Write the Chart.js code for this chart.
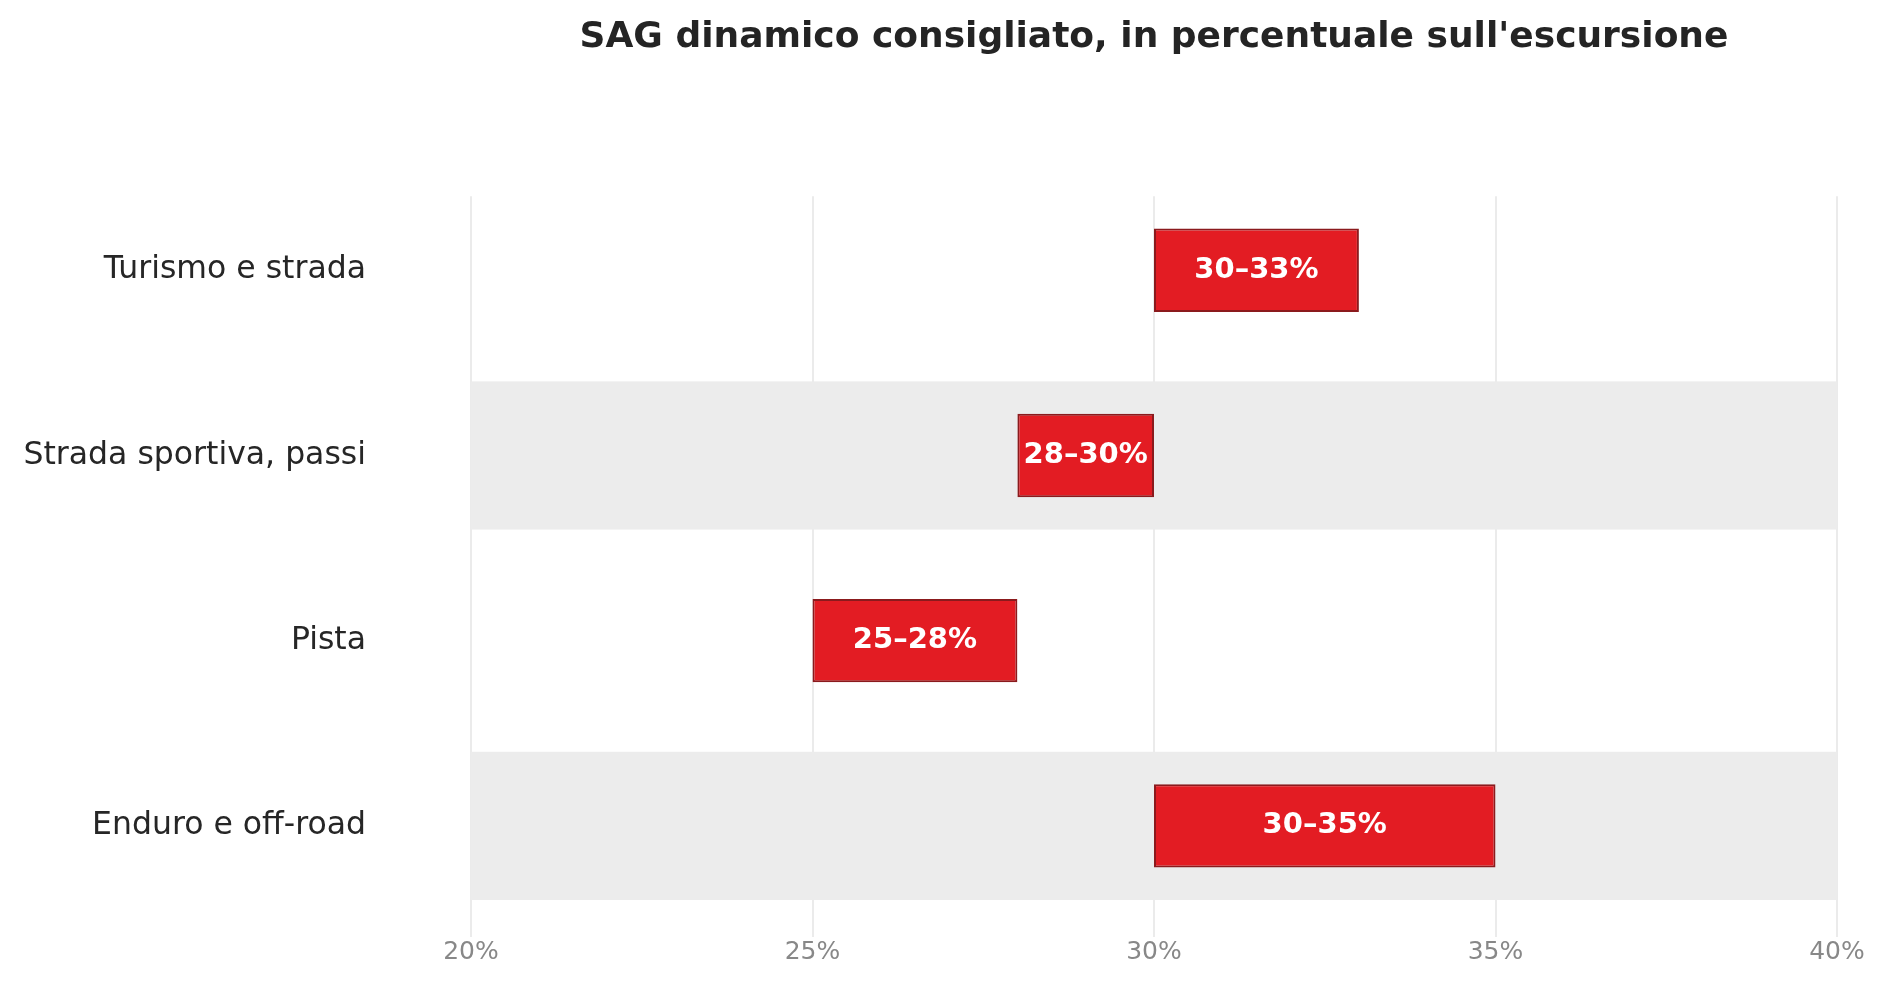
<!DOCTYPE html>
<html>
<head>
<meta charset="utf-8">
<script src="https://cdn.jsdelivr.net/npm/chart.js@4/dist/chart.umd.min.js"></script>
<style>
    html, body { margin: 0; padding: 0; background: #ffffff; }
    canvas { display: block; }
</style>
</head>
<body>
<canvas id="sagChart" width="1887" height="995"></canvas>
<script>
const categories = ['Turismo e strada', 'Strada sportiva, passi', 'Pista', 'Enduro e off-road'];
const sagMin = [30, 28, 25, 30];
const sagMax = [33, 30, 28, 35];
const xTicks = [20, 25, 30, 35, 40];
const shadedRows = [1, 3];

Chart.defaults.font.family = "'DejaVu Sans', sans-serif";

// fasce grigie dietro le righe alternate
const bandPlugin = {
    id: 'bands',
    beforeDatasetsDraw(chart) {
        const { ctx, chartArea, scales } = chart;
        ctx.save();
        ctx.fillStyle = '#ececec';
        shadedRows.forEach(i => {
            const y1 = scales.y.getPixelForValue(i - 0.4);
            const y2 = scales.y.getPixelForValue(i + 0.4);
            ctx.fillRect(chartArea.left, y1, chartArea.right - chartArea.left, y2 - y1);
        });
        ctx.restore();
    }
};

// etichetta "30–33%" al centro di ogni barra
const labelPlugin = {
    id: 'barLabels',
    afterDatasetsDraw(chart) {
        const { ctx } = chart;
        const meta = chart.getDatasetMeta(0);
        ctx.save();
        ctx.fillStyle = '#ffffff';
        ctx.font = "bold 29px 'DejaVu Sans'";
        ctx.textAlign = 'center';
        ctx.textBaseline = 'middle';
        meta.data.forEach((bar, i) => {
            const { x, base, y } = bar.getProps(['x', 'base', 'y'], true);
            ctx.fillText(sagMin[i] + '\u2013' + sagMax[i] + '%', (x + base) / 2, y);
        });
        ctx.restore();
    }
};

new Chart(document.getElementById('sagChart'), {
    type: 'bar',
    data: {
        datasets: [{
            data: categories.map((c, i) => ({ x: [sagMin[i], sagMax[i]], y: i })),
            backgroundColor: '#e31c23',
            borderColor: '#8b1a1d',
            borderWidth: 2,
            borderSkipped: false,
            barPercentage: 0.45,
            categoryPercentage: 1
        }]
    },
    options: {
        indexAxis: 'y',
        responsive: false,
        animation: false,
        layout: {
            padding: { top: 0, right: 50, bottom: 28, left: 0 }
        },
        plugins: {
            legend: { display: false },
            tooltip: { enabled: false },
            title: {
                display: true,
                text: "SAG dinamico consigliato, in percentuale sull'escursione",
                fullSize: false,
                color: '#242424',
                font: { size: 36, weight: 'bold' },
                padding: { top: 16, bottom: 137 }
            }
        },
        scales: {
            x: {
                type: 'linear',
                min: 20,
                max: 40,
                afterBuildTicks: scale => {
                    scale.ticks = xTicks.map(v => ({ value: v }));
                },
                ticks: {
                    callback: v => v + '%',
                    color: '#888888',
                    font: { size: 25 },
                    padding: 0,
                    maxRotation: 0
                },
                grid: {
                    color: '#ebebeb',
                    lineWidth: 2,
                    drawTicks: false
                },
                border: { display: false }
            },
            y: {
                type: 'linear',
                reverse: true,
                offset: false,
                min: -0.4,
                max: 3.6,
                afterBuildTicks: scale => {
                    scale.ticks = categories.map((c, i) => ({ value: i }));
                },
                afterFit: scale => {
                    scale.width = 471;
                    scale.paddingTop = 0;
                    scale.paddingBottom = 0;
                },
                ticks: {
                    callback: v => categories[v],
                    color: '#262626',
                    font: { size: 31.5 },
                    padding: 105
                },
                grid: { display: false, drawTicks: false },
                border: { display: false }
            }
        }
    },
    plugins: [bandPlugin, labelPlugin]
});
</script>
</body>
</html>
